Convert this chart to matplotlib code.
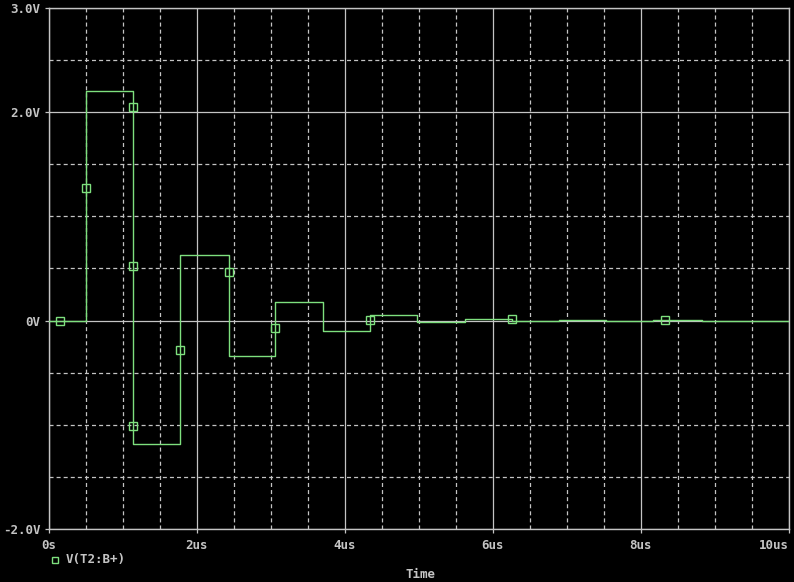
import matplotlib
matplotlib.use("Agg")
import matplotlib.pyplot as plt
from matplotlib.ticker import MultipleLocator, FixedLocator, FixedFormatter
from matplotlib.lines import Line2D

# ---- data (time in us, voltage in V) ----
step_times = [0, 0.505, 1.14, 1.777, 2.426, 3.06, 3.70, 4.334, 4.97, 5.62, 6.26, 6.89, 7.53, 8.16, 8.82, 10.0]
step_levels = [0, 2.205, -1.18, 0.63, -0.34, 0.18, -0.097, 0.058, -0.016, 0.019, -0.002, 0.01, -0.002, 0.008, 0, 0]
marker_times = [0.15, 0.505, 1.14, 1.14, 1.14, 1.777, 2.426, 3.06, 4.334, 6.25, 8.32]
marker_values = [0, 1.276, 2.05, 0.52, -1.01, -0.28, 0.47, -0.07, 0.01, 0.02, 0.01]
x_ticks = [0, 2, 4, 6, 8, 10]
x_labels = ["0s", "2us", "4us", "6us", "8us", "10us"]
y_ticks = [-2, 0, 2, 3]
y_labels = ["-2.0V", "0V", "2.0V", "3.0V"]
trace_name = "V(T2:B+)"
x_title = "Time"

plt.rcParams['lines.scale_dashes'] = False
FG = "#c4c4c4"
GREEN = "#7ee07e"
FONT = "DejaVu Sans Mono"

fig = plt.figure(figsize=(7.94, 5.82), dpi=100, facecolor="black")
ax = fig.add_axes([49/794, 1-529/582, (789-49)/794, (529-8)/582])
ax.set_facecolor("black")
ax.set_xlim(0, 10)
ax.set_ylim(-2, 3)

ax.xaxis.set_major_locator(FixedLocator(x_ticks))
ax.xaxis.set_major_formatter(FixedFormatter(x_labels))
ax.yaxis.set_major_locator(FixedLocator(y_ticks))
ax.yaxis.set_major_formatter(FixedFormatter(y_labels))
ax.xaxis.set_minor_locator(MultipleLocator(0.5))
ax.yaxis.set_minor_locator(MultipleLocator(0.5))

ax.grid(which="major", color=FG, linewidth=0.9, linestyle="-")
ax.grid(which="minor", color=FG, linewidth=0.9, linestyle=(0, (2.9, 2.2)))
ax.set_axisbelow(True)
for s in ax.spines.values():
    s.set_color(FG)
    s.set_linewidth(1.0)

ax.tick_params(which="major", direction="out", length=3, width=0.9, color=FG,
               labelcolor=FG, labelsize=9)
ax.tick_params(axis="y", which="major", pad=3)
ax.tick_params(axis="x", which="major", pad=4)
ax.tick_params(which="minor", length=0)
for lab in ax.get_xticklabels() + ax.get_yticklabels():
    lab.set_fontfamily(FONT)
    lab.set_fontweight("bold")
ax.get_xticklabels()[-1].set_horizontalalignment("right")

ax.plot(step_times, step_levels, drawstyle="steps-post", color=GREEN, linewidth=1.0, zorder=3)
ax.plot(marker_times, marker_values, linestyle="none", marker="s", markersize=5.5,
        markerfacecolor="none", markeredgecolor=GREEN, markeredgewidth=1.0, zorder=4)

# legend
fig.add_artist(Line2D([54.5/794], [1-560/582], marker="s", markersize=5.0, linestyle="none",
                      markerfacecolor="none", markeredgecolor=GREEN, markeredgewidth=1.0))
fig.text(66/794, 1-560/582, trace_name, color=FG, fontsize=9, family=FONT, weight="bold",
         ha="left", va="center")
fig.text(420/794, 1-575/582, x_title, color=FG, fontsize=9, family=FONT, weight="bold",
         ha="center", va="center")

fig.savefig("out.png", dpi=100, facecolor="black")
